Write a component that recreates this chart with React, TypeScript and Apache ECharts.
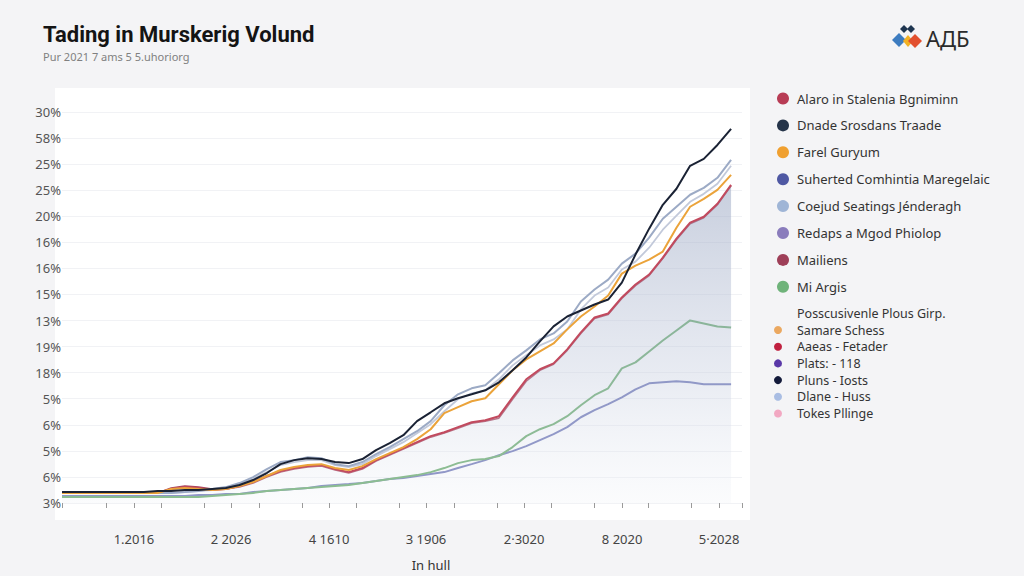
import React, { useEffect, useRef } from "react";
import * as echarts from "echarts";

// ---------- data ----------
const pointIndex = Array.from({ length: 50 }, (_, i) => i);

const yTickLabels = ["3%", "6%", "5%", "6%", "5%", "18%", "19%", "13%", "15%", "16%", "16%", "20%", "25%", "25%", "58%", "30%"];

const xTickValues = [0, 3.27, 5.27, 7.25, 10.4, 12.38, 14.43, 17.58, 19.56, 21.53, 24.68, 26.66, 28.71, 31.86, 33.84, 35.82, 38.97, 41.02, 42.92, 46.07, 48.12, 49.8];
const xLabelValues = [5.27, 12.38, 19.56, 26.66, 33.84, 41.02, 48.12];
const xLabels = ["1.2016", "2 2026", "4 1610", "3 1906", "2·3020", "8 2020", "5·2028"];

const alaro = [0.77, 0.77, 0.77, 0.77, 0.77, 0.77, 0.77, 0.77, 1.07, 1.22, 1.15, 0.99, 1.07, 1.3, 1.61, 2.07, 2.45, 2.68, 2.83, 2.91, 2.6, 2.37, 2.68, 3.29, 3.75, 4.21, 4.67, 5.13, 5.43, 5.82, 6.2, 6.35, 6.66, 8.11, 9.49, 10.26, 10.71, 11.79, 13.09, 14.23, 14.54, 15.77, 16.76, 17.53, 18.83, 20.28, 21.51, 21.96, 22.96, 24.41];
const dnade = [0.84, 0.84, 0.84, 0.84, 0.84, 0.84, 0.84, 0.92, 0.92, 0.99, 0.99, 1.07, 1.15, 1.38, 1.76, 2.3, 2.98, 3.29, 3.44, 3.37, 3.14, 3.06, 3.37, 4.06, 4.59, 5.2, 6.28, 6.96, 7.65, 8.04, 8.34, 8.65, 9.26, 10.18, 11.17, 12.4, 13.55, 14.31, 14.77, 15.23, 15.61, 16.91, 19.06, 21.05, 22.88, 24.11, 25.87, 26.4, 27.47, 28.7];
const farel = [0.77, 0.77, 0.77, 0.77, 0.77, 0.77, 0.77, 0.77, 1.07, 1.15, 1.07, 0.99, 1.07, 1.3, 1.61, 2.07, 2.53, 2.76, 2.91, 2.98, 2.68, 2.53, 2.83, 3.37, 3.83, 4.29, 4.9, 5.66, 6.89, 7.35, 7.81, 8.04, 9.11, 10.18, 11.02, 11.63, 12.24, 13.32, 14.31, 15.08, 15.92, 17.6, 18.21, 18.67, 19.29, 21.12, 22.73, 23.34, 24.03, 25.18];
const suherted = [0.54, 0.54, 0.54, 0.54, 0.54, 0.54, 0.54, 0.54, 0.54, 0.54, 0.61, 0.61, 0.69, 0.69, 0.84, 0.92, 0.99, 1.07, 1.15, 1.3, 1.38, 1.45, 1.53, 1.68, 1.84, 1.91, 2.07, 2.22, 2.37, 2.68, 2.98, 3.29, 3.67, 3.98, 4.36, 4.82, 5.28, 5.82, 6.58, 7.12, 7.58, 8.11, 8.72, 9.18, 9.26, 9.34, 9.26, 9.11, 9.11, 9.11];
const coejud = [0.77, 0.77, 0.77, 0.77, 0.77, 0.77, 0.77, 0.77, 0.77, 0.84, 0.92, 1.07, 1.22, 1.53, 1.99, 2.6, 3.14, 3.29, 3.52, 3.44, 2.98, 2.83, 3.14, 3.75, 4.29, 4.9, 5.51, 6.28, 7.5, 8.34, 8.8, 9.03, 9.95, 10.94, 11.71, 12.55, 13.01, 13.93, 15.46, 16.38, 17.14, 18.37, 19.13, 20.36, 21.81, 22.73, 23.65, 24.18, 24.95, 26.33];
const redaps = [0.77, 0.77, 0.77, 0.77, 0.77, 0.77, 0.77, 0.77, 0.77, 0.84, 0.92, 0.99, 1.15, 1.45, 1.84, 2.37, 2.91, 3.14, 3.29, 3.29, 2.91, 2.76, 2.98, 3.6, 4.13, 4.67, 5.36, 6.05, 7.04, 7.96, 8.42, 8.65, 9.49, 10.56, 11.33, 12.09, 12.55, 13.32, 14.85, 15.92, 16.53, 17.91, 18.52, 19.59, 20.97, 22.04, 23.11, 23.72, 24.49, 25.87];
const mailiens = [0.77, 0.77, 0.77, 0.77, 0.77, 0.77, 0.77, 0.77, 1.15, 1.3, 1.22, 1.07, 1.07, 1.22, 1.53, 1.99, 2.37, 2.6, 2.76, 2.83, 2.53, 2.3, 2.6, 3.21, 3.67, 4.13, 4.59, 5.05, 5.36, 5.74, 6.12, 6.28, 6.51, 7.96, 9.34, 10.18, 10.64, 11.71, 13.01, 14.16, 14.46, 15.69, 16.68, 17.45, 18.75, 20.2, 21.43, 21.88, 22.88, 24.33];
const miArgis = [0.46, 0.46, 0.46, 0.46, 0.46, 0.46, 0.46, 0.46, 0.46, 0.46, 0.46, 0.54, 0.61, 0.69, 0.77, 0.92, 0.99, 1.07, 1.15, 1.22, 1.3, 1.38, 1.53, 1.68, 1.84, 1.99, 2.14, 2.37, 2.68, 3.06, 3.29, 3.37, 3.6, 4.29, 5.13, 5.66, 6.05, 6.66, 7.5, 8.27, 8.8, 10.33, 10.79, 11.63, 12.47, 13.24, 14.01, 13.78, 13.55, 13.47];

const seriesNames = [
  "Alaro in Stalenia Bgniminn",
  "Dnade Srosdans Traade",
  "Farel Guryum",
  "Suherted Comhintia Maregelaic",
  "Coejud Seatings Jénderagh",
  "Redaps a Mgod Phiolop",
  "Mailiens",
  "Mi Argis",
];

const extraHeader = "Posscusivenle Plous Girp.";
const extraNames = ["Samare Schess", "Aaeas - Fetader", "Plats: - 118", "Pluns - Iosts", "Dlane - Huss", "Tokes Pllinge"];
const extraColors = ["#eba860", "#c0203f", "#5a38a8", "#131a3a", "#a9bde3", "#f2a8c2"];

const titleText = "Tading in Murskerig Volund";
const subtitleText = "Pur 2021 7 ams 5 5.uhoriorg";
const xAxisName = "In hull";
const logoText = "АДБ";

// ---------- chart ----------
function pairs(vals: number[]) {
  return vals.map((v, i) => [pointIndex[i], v]);
}

export default function App() {
  const ref = useRef<HTMLDivElement>(null);

  useEffect(() => {
    if (!ref.current) return;
    const chart = echarts.init(ref.current, null, { renderer: "svg" });

    const lineDef = (
      name: string,
      data: number[],
      dot: string,
      line: string,
      width: number,
      z: number,
      extra: any = {}
    ) => ({
      name,
      type: "line",
      data: pairs(data),
      showSymbol: false,
      symbol: "circle",
      itemStyle: { color: dot },
      lineStyle: { color: line, width },
      z,
      ...extra,
    });

    const extraGraphics: any[] = [];
    extraGraphics.push({
      type: "text",
      x: 797,
      y: 313,
      style: { text: extraHeader, fill: "#333", font: "12.5px 'Noto Sans', sans-serif", verticalAlign: "middle" },
    });
    extraNames.forEach((n, i) => {
      const cy = 330 + i * 16.7;
      extraGraphics.push({
        type: "circle",
        shape: { cx: 778, cy, r: 4 },
        style: { fill: extraColors[i] },
      });
      extraGraphics.push({
        type: "text",
        x: 797,
        y: cy,
        style: {
          text: n,
          fill: "#333",
          font: "12.5px 'Noto Sans', sans-serif",
          verticalAlign: "middle",
        },
      });
    });

    const option: any = {
      animation: false,
      backgroundColor: "#f4f4f6",
      grid: { left: 62, right: 282, top: 112, bottom: 72, containLabel: false },
      xAxis: {
        type: "value",
        min: 0,
        max: 49.8,
        offset: 18,
        name: xAxisName,
        nameLocation: "middle",
        nameGap: 37,
        nameTextStyle: { color: "#333", fontSize: 13, fontFamily: "'Noto Sans', sans-serif", padding: [0, 0, 0, 58] },
        axisLine: { show: false },
        axisTick: {
          show: true,
          length: 5,
          customValues: xTickValues,
          lineStyle: { color: "#9a9a9a", width: 1 },
        },
        axisLabel: {
          show: true,
          customValues: xLabelValues,
          margin: 11,
          color: "#444",
          fontSize: 13,
          fontFamily: "'Noto Sans', sans-serif",
          formatter: (v: number) => {
            let best = 0;
            xLabelValues.forEach((lv, i) => {
              if (Math.abs(lv - v) < Math.abs(xLabelValues[best] - v)) best = i;
            });
            return xLabels[best];
          },
        },
        splitLine: { show: false },
      },
      yAxis: {
        type: "value",
        min: 0,
        max: 30,
        interval: 2,
        axisLine: { show: false },
        axisTick: { show: false },
        axisLabel: {
          margin: 1,
          color: "#555",
          fontSize: 13,
          fontFamily: "'Noto Sans', sans-serif",
          formatter: (v: number) => yTickLabels[Math.round(v / 2)] ?? "",
        },
        splitLine: { show: true, lineStyle: { color: "#f1f2f5", width: 1 } },
      },
      legend: {
        orient: "vertical",
        left: 772,
        top: 87,
        icon: "circle",
        itemWidth: 12,
        itemHeight: 12,
        itemGap: 13.9,
        data: seriesNames,
        textStyle: {
          color: "#333",
          fontSize: 13,
          fontFamily: "'Noto Sans', sans-serif",
          padding: [0, 0, 0, 3],
        },
      },
      graphic: [
        {
          type: "rect",
          shape: { x: 55, y: 88, width: 695, height: 432 },
          style: { fill: "#ffffff" },
          z: -10,
          silent: true,
        },
        {
          type: "text",
          left: 43,
          top: 23,
          style: { text: titleText, fill: "#141414", font: "bold 22px Roboto, sans-serif" },
        },
        {
          type: "text",
          left: 43,
          top: 51,
          style: { text: subtitleText, fill: "#808080", font: "11px 'Noto Sans', sans-serif" },
        },
        { type: "polygon", shape: { points: [[899, 33], [906, 40], [899, 47], [892, 40]] }, style: { fill: "#3d7cc0" } },
        { type: "polygon", shape: { points: [[908, 35], [913, 41], [908, 47], [903, 41]] }, style: { fill: "#f2b124" } },
        { type: "polygon", shape: { points: [[915, 34], [922, 41], [915, 48], [908, 41]] }, style: { fill: "#e2502f" } },
        { type: "polygon", shape: { points: [[904, 25], [908, 29], [904, 33], [900, 29]] }, style: { fill: "#1e3550" } },
        { type: "polygon", shape: { points: [[911, 25], [915, 29], [911, 33], [907, 29]] }, style: { fill: "#1e3550" } },
        {
          type: "text",
          x: 926,
          y: 38,
          style: { text: logoText, fill: "#2b2b2b", font: "22px 'Noto Sans', sans-serif", verticalAlign: "middle" },
        },
        ...extraGraphics,
      ],
      series: [
        lineDef(seriesNames[0], alaro, "#b83c55", "#c24a5e", 2, 5, {
          areaStyle: {
            color: new echarts.graphic.LinearGradient(0, 0, 0, 1, [
              { offset: 0, color: "rgba(150,163,192,0.75)" },
              { offset: 0.6, color: "rgba(196,204,222,0.55)" },
              { offset: 1, color: "rgba(238,241,246,0.35)" },
            ]),
          },
        }),
        lineDef(seriesNames[6], mailiens, "#9e3f58", "#a8445c", 1.5, 4),
        lineDef(seriesNames[3], suherted, "#4f58a3", "#7078b8", 2, 4),
        lineDef(seriesNames[7], miArgis, "#6fb37a", "#6aac6e", 2, 4),
        lineDef(seriesNames[5], redaps, "#8a7cbc", "#c2c9da", 1.8, 4),
        lineDef(seriesNames[4], coejud, "#9fb5d6", "#9caac5", 2, 5),
        lineDef(seriesNames[2], farel, "#f0a030", "#eba33a", 2, 6),
        lineDef(seriesNames[1], dnade, "#253449", "#1a2234", 2, 7),
      ],
    };

    chart.setOption(option);
    return () => chart.dispose();
  }, []);

  return (
    <div
      ref={ref}
      style={{ position: "fixed", left: 0, top: 0, width: 1024, height: 576, background: "#f4f4f6" }}
    />
  );
}
